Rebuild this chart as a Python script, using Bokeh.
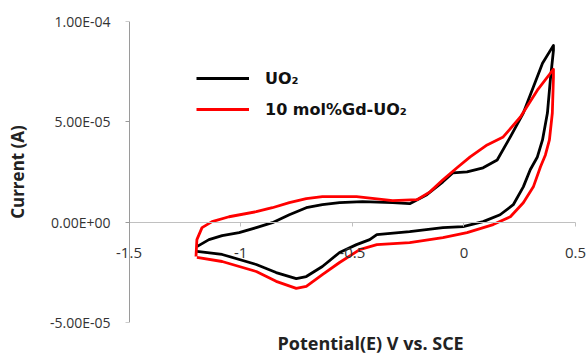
from bokeh.plotting import figure
from bokeh.models import (Range1d, LinearAxis, FixedTicker, CustomJSTickFormatter,
                          Legend, LegendItem, Title)
from bokeh.embed import file_html
from bokeh.resources import INLINE

# Data (potential in V vs SCE, current in A)
uo2_v = [-1.196, -1.142, -1.083, -1.007, -0.930, -0.858, -0.782, -0.706, -0.634, -0.557,
         -0.454, -0.319, -0.243, -0.166, -0.094, -0.049, 0.014, 0.086, 0.149, 0.208,
         0.266, 0.311, 0.352, 0.401,
         0.401, 0.387, 0.374, 0.352, 0.329, 0.297, 0.266, 0.221, 0.162, 0.086,
         -0.004, -0.094, -0.243, -0.390, -0.422, -0.481, -0.557, -0.634, -0.706, -0.751,
         -0.841, -0.930, -1.083, -1.196]
uo2_i = [-1.22e-5, -8.7e-6, -6.7e-6, -5.2e-6, -2.7e-6, -2.5e-7, 3.7e-6, 7.2e-6, 8.7e-6, 9.7e-6,
         1.02e-5, 9.7e-6, 9.2e-6, 1.37e-5, 2.01e-5, 2.46e-5, 2.51e-5, 2.71e-5, 3.10e-5, 4.25e-5,
         5.44e-5, 6.73e-5, 7.92e-5, 8.81e-5,
         8.56e-5, 7.08e-5, 5.44e-5, 4.10e-5, 3.25e-5, 2.61e-5, 1.76e-5, 8.7e-6, 3.7e-6, 2.5e-7,
         -2.2e-6, -2.7e-6, -4.7e-6, -6.2e-6, -8.7e-6, -1.12e-5, -1.51e-5, -2.21e-5, -2.71e-5, -2.81e-5,
         -2.51e-5, -2.11e-5, -1.61e-5, -1.46e-5]

gd_v = [-1.200, -1.196, -1.173, -1.128, -1.052, -0.930, -0.858, -0.782, -0.706, -0.634,
        -0.481, -0.319, -0.210, -0.152, -0.094, -0.031, 0.028, 0.104, 0.176, 0.253,
        0.329, 0.401,
        0.401, 0.396, 0.383, 0.365, 0.343, 0.311, 0.266, 0.208, 0.131, 0.014,
        -0.094, -0.243, -0.390, -0.467, -0.557, -0.634, -0.706, -0.751, -0.841, -0.930,
        -1.083, -1.196]
gd_i = [-1.71e-5, -8.7e-6, -2.7e-6, 2.5e-7, 2.7e-6, 5.2e-6, 7.2e-6, 9.7e-6, 1.17e-5, 1.27e-5,
        1.27e-5, 1.07e-5, 1.12e-5, 1.51e-5, 2.11e-5, 2.71e-5, 3.25e-5, 3.85e-5, 4.25e-5, 5.24e-5,
        6.58e-5, 7.62e-5,
        7.22e-5, 5.44e-5, 4.10e-5, 3.35e-5, 2.76e-5, 1.76e-5, 9.7e-6, 2.7e-6, -1.2e-6, -5.2e-6,
        -7.7e-6, -1.02e-5, -1.12e-5, -1.37e-5, -2.01e-5, -2.61e-5, -3.20e-5, -3.30e-5, -2.95e-5, -2.46e-5,
        -1.96e-5, -1.76e-5]

x_ticks = [-1.5, -1.0, -0.5, 0.0, 0.5]
y_ticks = [-5e-5, 0.0, 5e-5, 1e-4]
series_labels = ["UO\u2082", "10 mol%Gd-UO\u2082"]
x_title = "Potential(E) V vs. SCE"
y_title = "Current (A)"

FONT = "Open Sans"
LEG_FONT = "DejaVu Sans"

# frame padded a little beyond the x axis so the end tick labels are not clipped
p = figure(width=588, height=360, output_backend="svg", toolbar_location=None,
           x_range=Range1d(-1.574, 0.558), y_range=Range1d(y_ticks[0], y_ticks[-1]),
           x_axis_type=None, y_axis_type=None,
           min_border_left=112, min_border_right=0, min_border_top=21, min_border_bottom=37)
p.outline_line_color = None
p.xgrid.visible = False
p.ygrid.visible = False
p.background_fill_color = "white"

# y axis labels (panel axis, line hidden)
yax = LinearAxis(ticker=FixedTicker(ticks=y_ticks))
yax.formatter = CustomJSTickFormatter(code="""
if (Math.abs(tick) < 1e-12) return "0.00E+00";
const s = tick.toExponential(2).toUpperCase();
const m = s.match(/^(-?\\d\\.\\d\\d)E([+-])(\\d+)$/);
if (!m) return s;
const ex = m[3].length < 2 ? "0" + m[3] : m[3];
return m[1] + "E" + m[2] + ex;
""")
yax.axis_label = y_title
yax.axis_label_text_font = FONT
yax.axis_label_text_font_style = "bold"
yax.axis_label_text_font_size = "17px"
yax.axis_label_text_color = "#222222"
yax.axis_label_standoff = 18
yax.major_label_text_font = FONT
yax.major_label_text_font_size = "14px"
yax.major_label_text_color = "#333333"
yax.axis_line_color = None
yax.major_tick_line_color = None
yax.major_tick_out = 0
yax.major_tick_in = 0
yax.minor_tick_line_color = None
yax.major_label_standoff = 2
p.add_layout(yax, "left")

# visible y axis line with ticks at x = -1.5
yline = LinearAxis(ticker=FixedTicker(ticks=y_ticks), fixed_location=x_ticks[0],
                   bounds=(y_ticks[0], y_ticks[-1]))
yline.formatter = CustomJSTickFormatter(code="return '';")
yline.axis_line_color = "#9a9a9a"
yline.major_tick_line_color = "#9a9a9a"
yline.major_tick_out = 4
yline.major_tick_in = 0
yline.minor_tick_line_color = None
p.add_layout(yline, "left")

# x axis crossing at zero current
xax = LinearAxis(ticker=FixedTicker(ticks=x_ticks), fixed_location=0,
                 bounds=(x_ticks[0], x_ticks[-1]))
xax.formatter = CustomJSTickFormatter(code="return String(tick);")
xax.major_label_text_font = FONT
xax.major_label_text_font_size = "15px"
xax.major_label_text_color = "#333333"
xax.axis_line_color = "#c0c0c0"
xax.major_tick_line_color = "#c0c0c0"
xax.major_tick_out = 4
xax.major_tick_in = 0
xax.minor_tick_line_color = None
xax.major_label_standoff = 22
p.add_layout(xax, "below")

# x axis title
t = Title(text=x_title, align="left", offset=165, standoff=12, text_font=FONT,
          text_font_style="bold", text_font_size="18px", text_color="#222222")
p.add_layout(t, "below")

r1 = p.line(uo2_v, uo2_i, line_color="black", line_width=2.8, line_join="round")
r2 = p.line(gd_v, gd_i, line_color="#ff0000", line_width=2.8, line_join="round")

legend = Legend(items=[LegendItem(label=series_labels[0], renderers=[r1]),
                       LegendItem(label=series_labels[1], renderers=[r2])],
                location=(84, 203))
legend.background_fill_alpha = 0
legend.border_line_color = None
legend.label_text_font = LEG_FONT
legend.label_text_font_style = "bold"
legend.label_text_font_size = "16px"
legend.label_text_color = "#111111"
legend.glyph_width = 53
legend.label_standoff = 16
legend.spacing = 11
legend.padding = 0
p.add_layout(legend, "center")

open("out.html", "w").write(file_html(p, INLINE))
